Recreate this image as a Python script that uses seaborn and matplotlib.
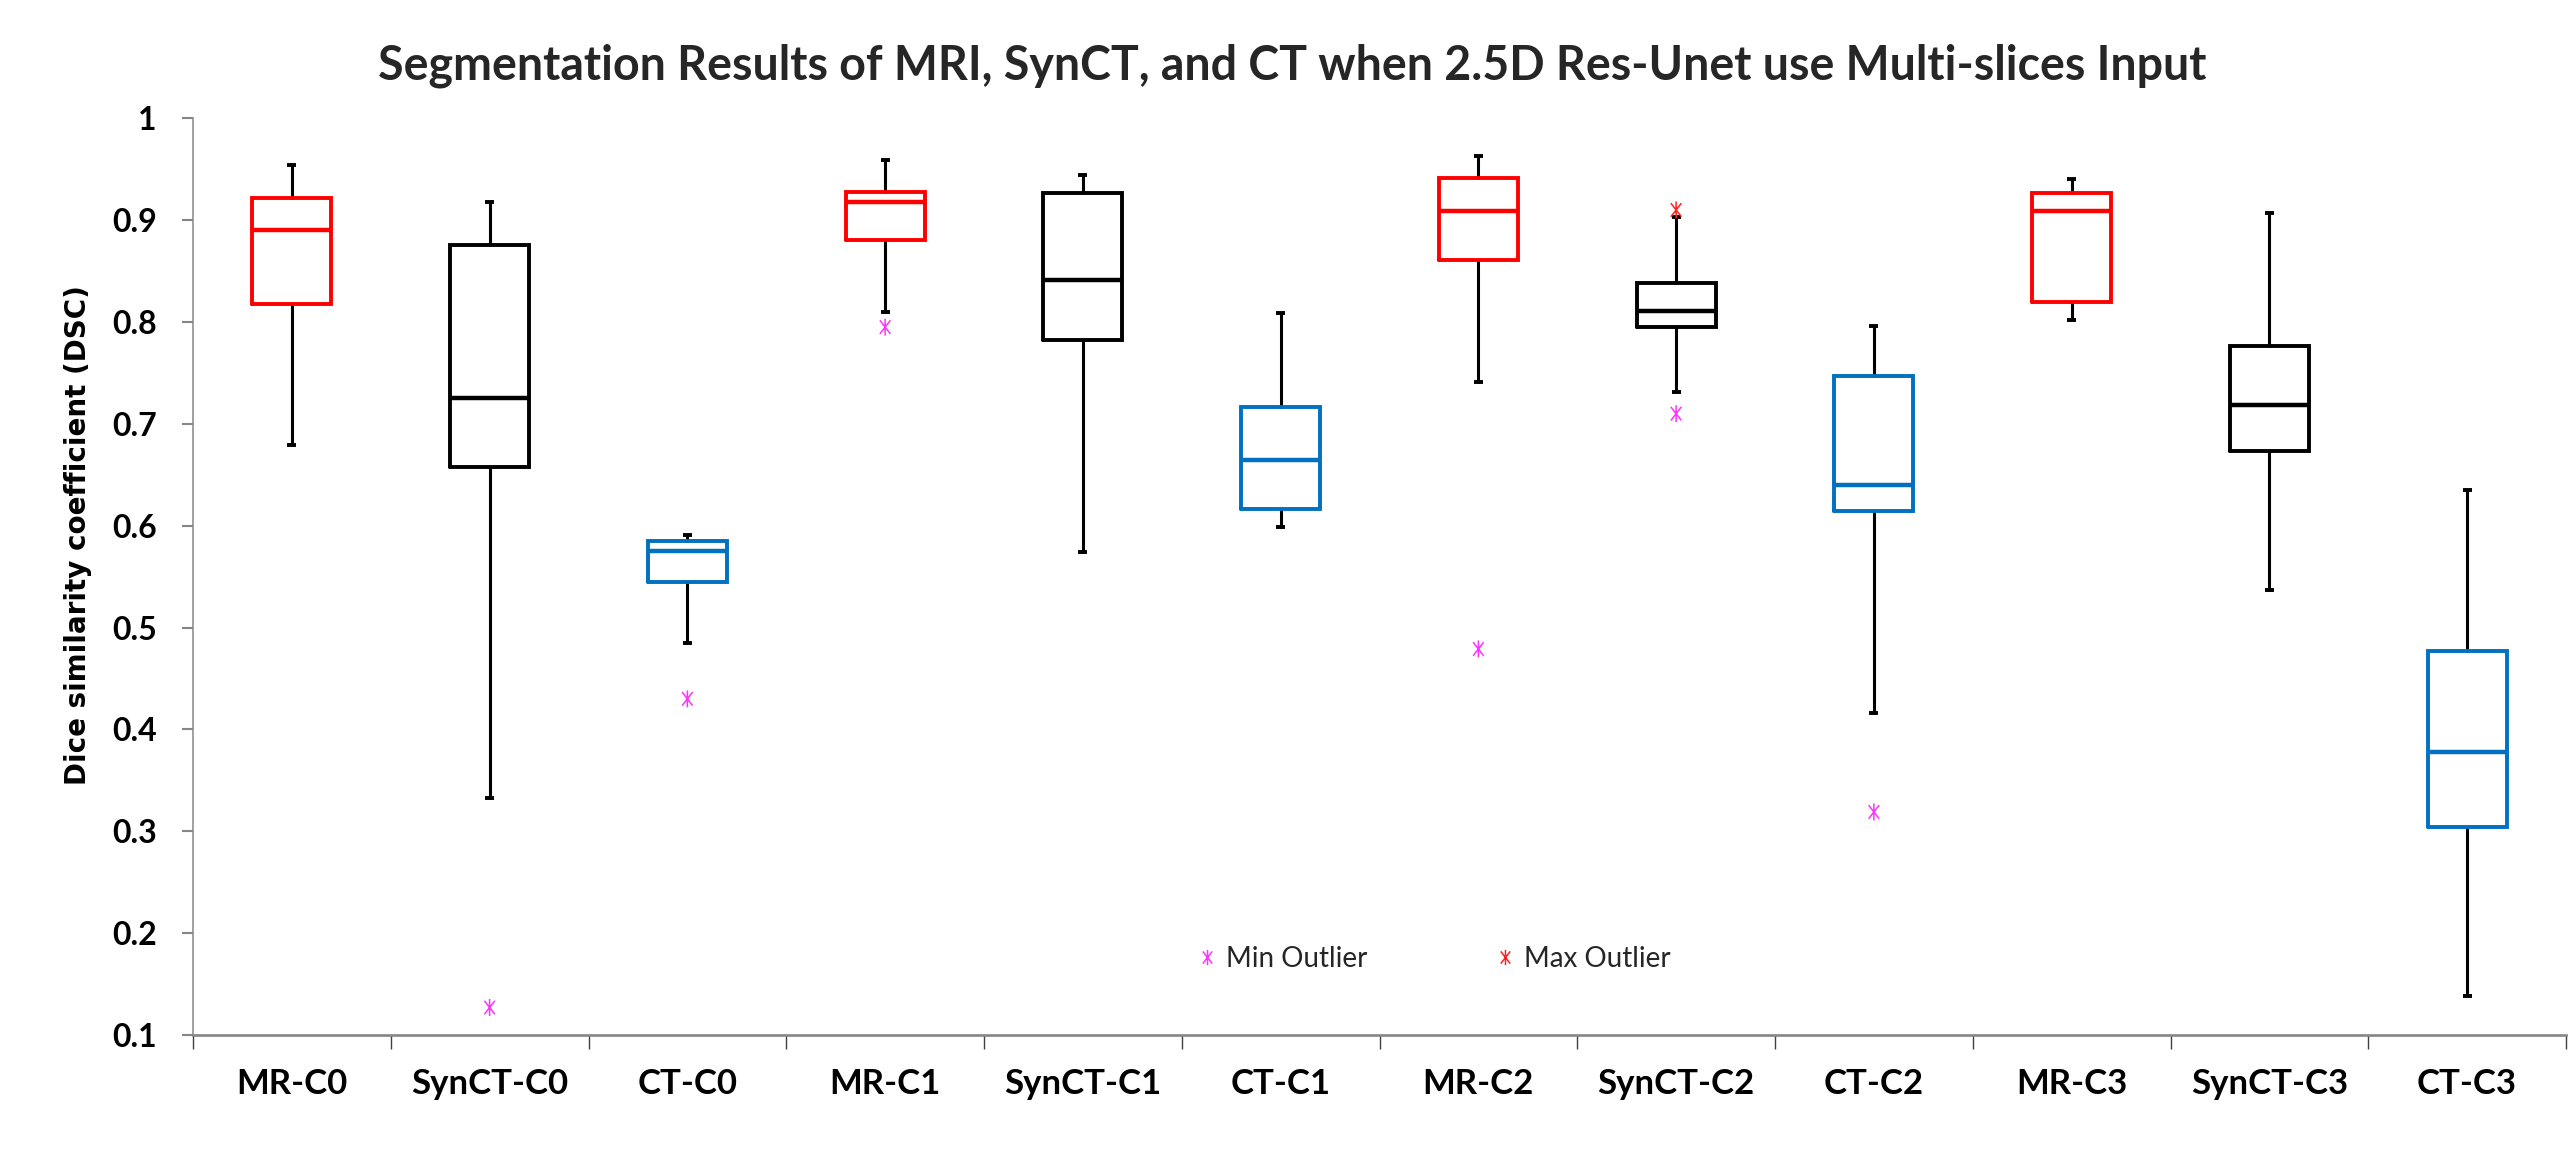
import numpy as np
import pandas as pd
import matplotlib
matplotlib.use("Agg")
import matplotlib.pyplot as plt
import seaborn as sns
from matplotlib.path import Path
from matplotlib.markers import MarkerStyle
from matplotlib.lines import Line2D

# ---------------- data ----------------
categories = ["MR-C0", "SynCT-C0", "CT-C0", "MR-C1", "SynCT-C1", "CT-C1",
              "MR-C2", "SynCT-C2", "CT-C2", "MR-C3", "SynCT-C3", "CT-C3"]
whisker_low = [0.679, 0.333, 0.485, 0.810, 0.574, 0.599, 0.741, 0.731, 0.416, 0.802, 0.537, 0.138]
q1 = [0.818, 0.658, 0.545, 0.881, 0.782, 0.616, 0.861, 0.795, 0.614, 0.820, 0.673, 0.304]
median = [0.890, 0.725, 0.575, 0.918, 0.841, 0.665, 0.909, 0.811, 0.640, 0.909, 0.719, 0.378]
q3 = [0.922, 0.876, 0.585, 0.928, 0.927, 0.717, 0.941, 0.838, 0.747, 0.927, 0.776, 0.477]
whisker_high = [0.954, 0.918, 0.591, 0.959, 0.944, 0.809, 0.963, 0.903, 0.796, 0.940, 0.907, 0.635]

min_outlier_cats = ["SynCT-C0", "CT-C0", "MR-C1", "MR-C2", "SynCT-C2", "CT-C2"]
min_outlier_vals = [0.127, 0.430, 0.795, 0.479, 0.710, 0.319]
max_outlier_cats = ["SynCT-C2"]
max_outlier_vals = [0.910]

y_ticks = [0.1, 0.2, 0.3, 0.4, 0.5, 0.6, 0.7, 0.8, 0.9, 1.0]
y_tick_labels = ["0.1", "0.2", "0.3", "0.4", "0.5", "0.6", "0.7", "0.8", "0.9", "1"]

title = "Segmentation Results of MRI, SynCT, and CT when 2.5D Res-Unet use Multi-slices Input"
ylabel = "Dice similarity coefficient (DSC)"
legend_labels = ["Min Outlier", "Max Outlier"]

# ---------------- styles ----------------
group_colors = {"MR": "#FF0000", "SynCT": "#000000", "CT": "#0070C0"}
outlier_colors = {"Min Outlier": "#FF33FF", "Max Outlier": "#FF2020"}

sns.set_theme(style="white")
plt.rcParams['font.family'] = ['Lato', 'DejaVu Sans']

W, H = 2570, 1156
fig = plt.figure(figsize=(W / 100, H / 100), dpi=100)
ax_left, ax_right, ax_top, ax_bot = 193, 2566, 118.3, 1035
ax = fig.add_axes([ax_left / W, 1 - ax_bot / H, (ax_right - ax_left) / W, (ax_bot - ax_top) / H])

pos = np.arange(len(categories))
stats = [dict(label=c, whislo=lo, q1=a, med=m, q3=b, whishi=hi, fliers=[])
         for c, lo, a, m, b, hi in zip(categories, whisker_low, q1, median, q3, whisker_high)]
art = ax.bxp(stats, positions=pos, widths=0.4, capwidths=0.045, showfliers=False,
             boxprops=dict(linewidth=2.8, solid_joinstyle="miter"),
             medianprops=dict(linewidth=3.2, solid_capstyle="butt"),
             whiskerprops=dict(color="black", linewidth=2.2),
             capprops=dict(color="black", linewidth=2.8, solid_capstyle="butt"),
             manage_ticks=False)
for i, c in enumerate(categories):
    col = group_colors[c.split("-")[0]]
    art["boxes"][i].set_color(col)
    art["medians"][i].set_color(col)
    art["boxes"][i].set_zorder(3)
    art["medians"][i].set_zorder(3)

# asterisk-like star marker (vertical bar + X)
star_path = Path([(0, -1), (0, 1), (-0.62, -0.8), (0.62, 0.8), (-0.62, 0.8), (0.62, -0.8)],
                 [Path.MOVETO, Path.LINETO, Path.MOVETO, Path.LINETO, Path.MOVETO, Path.LINETO])
star = MarkerStyle(star_path, fillstyle="none")

outliers = pd.DataFrame({
    "category": min_outlier_cats + max_outlier_cats,
    "value": min_outlier_vals + max_outlier_vals,
    "kind": ["Min Outlier"] * len(min_outlier_vals) + ["Max Outlier"] * len(max_outlier_vals),
})
outliers["pos"] = outliers["category"].map({c: i for i, c in enumerate(categories)})
n_before = len(ax.collections)
sns.scatterplot(data=outliers, x="pos", y="value", hue="kind", palette=outlier_colors,
                marker=star, s=150, linewidth=1.1, legend=False, ax=ax, zorder=4)
coll = ax.collections[n_before]
coll.set_edgecolors([outlier_colors[k] for k in outliers["kind"]])
coll.set_facecolors("none")

# axes formatting
ax.set_xlim(-0.5, len(categories) - 0.5)
ax.set_ylim(0.1, 1.0)
ax.set_xticks(pos)
ax.set_xticklabels(categories, fontsize=25, fontweight="bold", color="black")
ax.set_xticks(np.arange(-0.5, len(categories), 1.0), minor=True)
ax.set_yticks(y_ticks)
ax.set_yticklabels(y_tick_labels, fontsize=23, fontweight="bold", color="black")
ax.tick_params(axis="x", which="major", length=0, pad=24)
ax.tick_params(axis="x", which="minor", length=10, width=1.0, color="#404040", direction="out", bottom=True)
ax.tick_params(axis="y", which="major", length=8, width=1.5, color="#868686", direction="out", left=True, pad=18)
ax.set_xlabel("")
ax.set_ylabel(ylabel, fontsize=20, fontweight="bold", family="DejaVu Sans", color="black")
ax.yaxis.set_label_coords((92 - ax_left) / (ax_right - ax_left), (ax_bot - 535) / (ax_bot - ax_top))
for s in ["top", "right"]:
    ax.spines[s].set_visible(False)
ax.spines["left"].set_color("#868686")
ax.spines["left"].set_linewidth(1.1)
ax.spines["bottom"].set_color("#868686")
ax.spines["bottom"].set_linewidth(1.9)
ax.grid(False)

# legend
handles = [Line2D([], [], linestyle="none", marker=star, markersize=11, markeredgewidth=1.1,
                  color=outlier_colors[k]) for k in legend_labels]
ax.legend(handles, legend_labels, ncol=2, frameon=False, loc="center",
          bbox_to_anchor=((1434 - ax_left) / (ax_right - ax_left), (ax_bot - 959) / (ax_bot - ax_top)),
          prop={"family": "Lato", "size": 20}, handlelength=0.7, handletextpad=0.35,
          columnspacing=4.6)

fig.text(1292 / W, 1 - 80 / H, title, ha="center", va="baseline", fontsize=33.5, fontweight="bold")

fig.savefig("out.png", dpi=100, facecolor="white")
